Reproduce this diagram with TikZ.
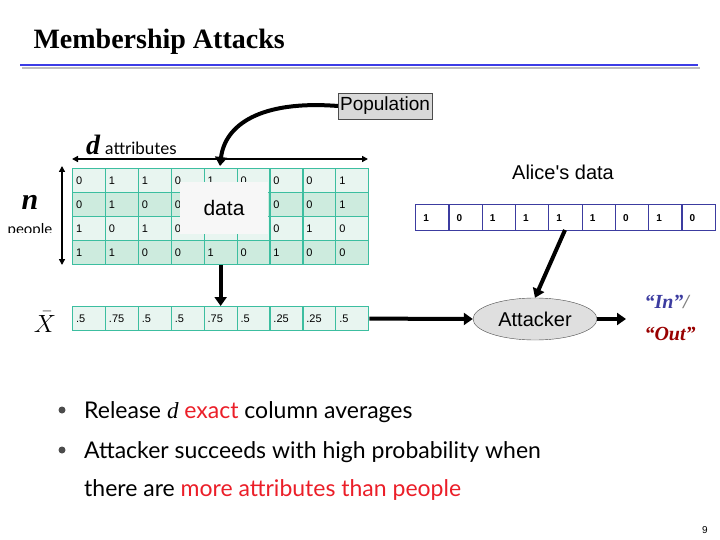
\documentclass[tikz,border=0pt]{standalone}
\usepackage{fontspec}
\setmainfont{Liberation Serif}
\newfontfamily\arial{Liberation Sans}
\newfontfamily\gill{Lato}
\usetikzlibrary{shapes.geometric,arrows.meta}
\definecolor{gridc}{RGB}{60,190,160}
\definecolor{cellA}{RGB}{232,245,240}
\definecolor{cellB}{RGB}{205,235,222}
\definecolor{alic}{RGB}{60,60,160}
\definecolor{redt}{RGB}{235,30,40}
\definecolor{titleblue}{RGB}{60,60,230}
\begin{document}
\begin{tikzpicture}[x=1pt,y=-1pt,
  cell/.style={draw=gridc,line width=1.2pt,minimum width=32.9pt,minimum height=24pt,inner sep=0pt,font=\arial\fontsize{11}{11}\selectfont,anchor=north west,text width=26pt,align=left},
  acell/.style={draw=alic,line width=1.2pt,fill=white,minimum width=33.3pt,minimum height=26pt,inner sep=0pt,font=\arial\bfseries\fontsize{10}{10}\selectfont,anchor=north west,text width=26pt,align=left},
  big/.style={line width=4pt,-{Triangle[length=9pt,width=12pt]}},
  dim/.style={line width=1.5pt,{Triangle[length=6pt,width=6pt]}-{Triangle[length=6pt,width=6pt]}}]
\useasboundingbox (0,0) rectangle (720,540);
\node[anchor=west,font=\bfseries\fontsize{28}{28}\selectfont] (title) at (30,42) {Membership Attacks};
\draw[gray!50,line width=2pt] (22,68) -- (700,68);
\draw[titleblue,line width=2.5pt] (20,65) -- (698,65);
% grid
\foreach \r/\vals/\fc in {0/{0,1,1,0,1,0,0,0,1}/cellA,1/{0,1,0,0,1,0,0,0,1}/cellB,2/{1,0,1,0,1,0,0,1,0}/cellA,3/{1,1,0,0,1,0,1,0,0}/cellB}{
  \foreach \v [count=\c from 0] in \vals {
    \node[cell,fill=\fc] (g\r\c) at ({72+32.9*\c},{168+24*\r}) {\v};
  }}
\node[fill=gray!6,minimum width=88pt,minimum height=52pt,font=\arial\fontsize{21}{21}\selectfont] (data) at (224,208) {data};
\foreach \v [count=\c from 0] in {.5,.75,.5,.5,.75,.5,.25,.25,.5}{
  \node[cell,fill=cellA] (x\c) at ({72+32.9*\c},306) {\v};
}
\node[font=\itshape\fontsize{24}{24}\selectfont] (xbar) at (45,322) {$\bar{X}$};
\coordinate (dl) at (72,159); \coordinate (dr) at (368,159);
\draw[dim] (dl) -- (dr);
\node[anchor=west,inner sep=0pt] (dlab) at (86,145) {\fontsize{28}{28}\selectfont\textbf{\textit{d}}\,\gill\fontsize{17}{17}\selectfont attributes};
\coordinate (nt) at (62,166); \coordinate (nb) at (62,265);
\draw[dim] (nt) -- (nb);
\node[font=\bfseries\itshape\fontsize{30}{30}\selectfont] (nlab) at (30,202) {n};
\node[font=\gill\fontsize{15}{15}\selectfont] (plab) at (30,230) {people};
\fill[white] (0,233) rectangle (58,245);
\node[draw=gray!60!black,fill=gray!30,font=\arial\fontsize{19}{19}\selectfont,inner sep=2pt,minimum height=26pt] (pop) at (385,106) {Population};
\draw[big] (pop.west) .. controls (260,100) and (225,125) .. (220,166);
\draw[big] (g34.south) -- (x4.north);
% Alice
\node[font=\arial\fontsize{20}{20}\selectfont] (alice) at (563,172) {Alice's data};
\foreach \v [count=\c from 0] in {1,0,1,1,1,1,0,1,0}{
  \node[acell] (a\c) at ({415+33.3*\c},204) {\hspace*{4pt}\v};
}
\node[ellipse,draw=gray!60!black,fill=gray!25,minimum width=124pt,minimum height=42pt,font=\arial\fontsize{20}{20}\selectfont] (att) at (535,319) {Attacker};
\draw[big] (x8.east) -- (att.west);
\coordinate (as) at (565,230);
\draw[big] (as) -- (att.north);
\coordinate (io) at (626,319);
\draw[big] (att.east) -- (io);
\node[font=\bfseries\itshape\fontsize{20}{20}\selectfont,anchor=west] (in) at (641,302) {\textcolor{alic}{``In''}\textcolor{gray}{/}};
\node[font=\bfseries\itshape\fontsize{20}{20}\selectfont,anchor=west,text=red!60!black] (out) at (641,334) {``Out''};
% bullets
\begin{scope}[every node/.style={anchor=west,font=\gill\fontsize{23}{23}\selectfont,inner sep=0pt}]
\node (b1) at (84,412) {Release \textit{\rmfamily d} \textcolor{redt}{exact} column averages};
\node (b2) at (84,452) {Attacker succeeds with high probability when};
\node (b3) at (84,490) {there are \textcolor{redt}{more attributes than people}};
\fill[gray!60!black] (62,410) circle (3.5pt) (62,450) circle (3.5pt);
\end{scope}
\node[font=\arial\fontsize{10}{10}\selectfont] (pg) at (705,530) {9};
\end{tikzpicture}
\end{document}
